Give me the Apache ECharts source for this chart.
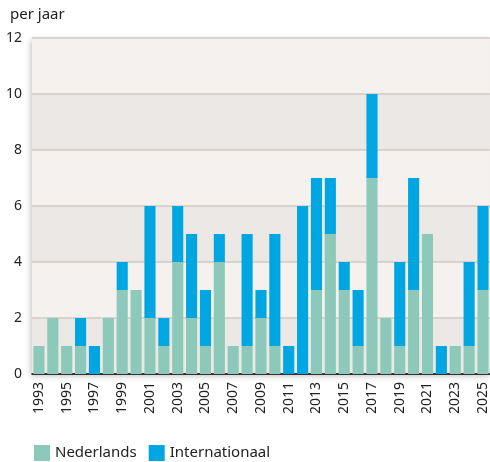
<!DOCTYPE html>
<html><head><meta charset="utf-8">
<script src="https://cdn.jsdelivr.net/npm/echarts@6/dist/echarts.min.js"></script>
<style>html,body{margin:0;padding:0;background:#fff}#c{width:490px;height:462px}</style>
</head><body><div id="c"></div>
<script>
const years = ['1993','1994','1995','1996','1997','1998','1999','2000','2001','2002','2003','2004','2005','2006','2007','2008','2009','2010','2011','2012','2013','2014','2015','2016','2017','2018','2019','2020','2021','2022','2023','2024','2025'];
const nederlands =    [1,2,1,1,0,2,3,3,2,1,4,2,1,4,1,1,2,1,0,0,3,5,3,1,7,2,1,3,5,0,1,1,3];
const internationaal = [0,0,0,1,1,0,1,0,4,1,2,3,2,1,0,4,1,4,1,6,4,2,1,2,3,0,3,4,0,1,0,3,3];
const yTicks = [0,2,4,6,8,10,12];
const F = '"Noto Sans", sans-serif';
const chart = echarts.init(document.getElementById('c'), null, {renderer:'canvas'});
chart.setOption({
  animation:false,
  title:{text:'per jaar', left:5, top:2, textStyle:{fontFamily:F, fontSize:15, fontWeight:'normal', color:'#222'}},
  grid:{left:32, right:0, top:38, bottom:88, show:true, backgroundColor:'#f4f1ee', borderWidth:0,
        shadowBlur:6, shadowColor:'rgba(0,0,0,0.25)', shadowOffsetX:-1, shadowOffsetY:2},
  legend:{left:29, top:440, itemWidth:16, itemHeight:16, itemGap:12, icon:'rect',
          textStyle:{fontFamily:F, fontSize:15, color:'#222'},
          data:['Nederlands','Internationaal']},
  xAxis:{type:'category', data:years,
         axisLine:{lineStyle:{color:'#000', width:1.5}}, axisTick:{show:false},
         axisLabel:{rotate:90, interval:1, fontFamily:F, fontSize:14, color:'#222', margin:8}},
  yAxis:{type:'value', min:0, max:12, interval:2,
         axisLabel:{fontFamily:F, fontSize:14, color:'#222', margin:10, formatter:v=>yTicks.includes(v)?String(v):''},
         splitLine:{lineStyle:{color:'#d2cac5', width:1.5}},
         splitArea:{show:true, areaStyle:{color:['#ece8e5','#f4f1ee']}}},
  series:[
    {name:'Nederlands', type:'bar', stack:'t', data:nederlands, itemStyle:{color:'#8cc9bb'}, barCategoryGap:'20%'},
    {name:'Internationaal', type:'bar', stack:'t', data:internationaal, itemStyle:{color:'#00a6e2'}}
  ]
});
</script></body></html>
